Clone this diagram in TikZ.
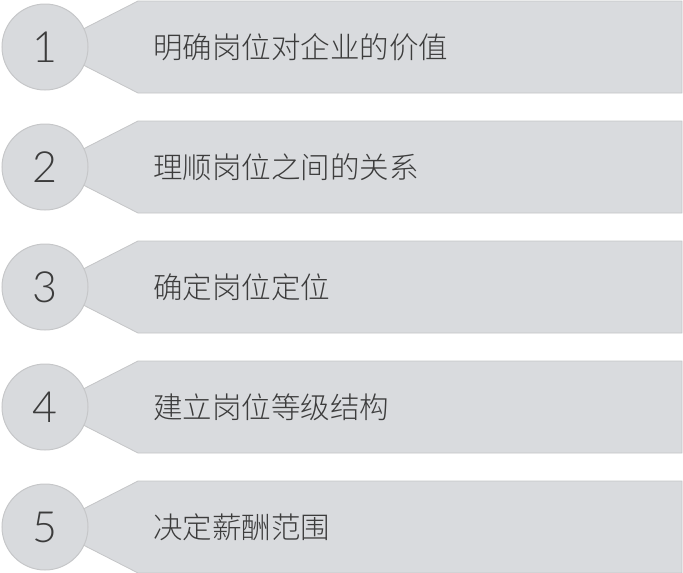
\documentclass[tikz,border=0pt]{standalone}
\usepackage{fontspec}
\setmainfont{Lato}[UprightFont=* Light]
\newfontfamily\cjk{Noto Sans CJK SC}[UprightFont=* Light]
\definecolor{bannerfill}{HTML}{D9DBDE}
\definecolor{bannerline}{HTML}{C4C5C7}
\definecolor{circfill}{HTML}{D8DADD}
\definecolor{circline}{HTML}{C6C7C9}
\definecolor{txt}{HTML}{3C3C3C}
\tikzset{
  banner/.style={fill=bannerfill, draw=bannerline, line width=0.8pt},
  numcirc/.style={circle, minimum size=86pt, inner sep=0pt, fill=circfill, draw=circline, line width=1pt,
    font=\fontsize{43}{43}\selectfont, text=txt},
  label/.style={anchor=west, inner sep=0pt, font=\cjk\fontsize{29.5}{29.5}\selectfont, text=txt}
}
\begin{document}
\begin{tikzpicture}[x=1pt,y=-1pt]
\useasboundingbox (0,0) rectangle (683,573);
\foreach \i/\t in {1/明确岗位对企业的价值,2/理顺岗位之间的关系,3/确定岗位定位,4/建立岗位等级结构,5/决定薪酬范围}{
  \pgfmathsetmacro{\c}{47+120*(\i-1)}
  \draw[banner] (48,\c) -- (138,\c-46) -- (682,\c-46) -- (682,\c+46) -- (138,\c+46) -- cycle;
  \node[numcirc] (n\i) at (45,\c) {\i};
  \node[label] (t\i) at (153,\c) {\t};
}
\end{tikzpicture}
\end{document}
